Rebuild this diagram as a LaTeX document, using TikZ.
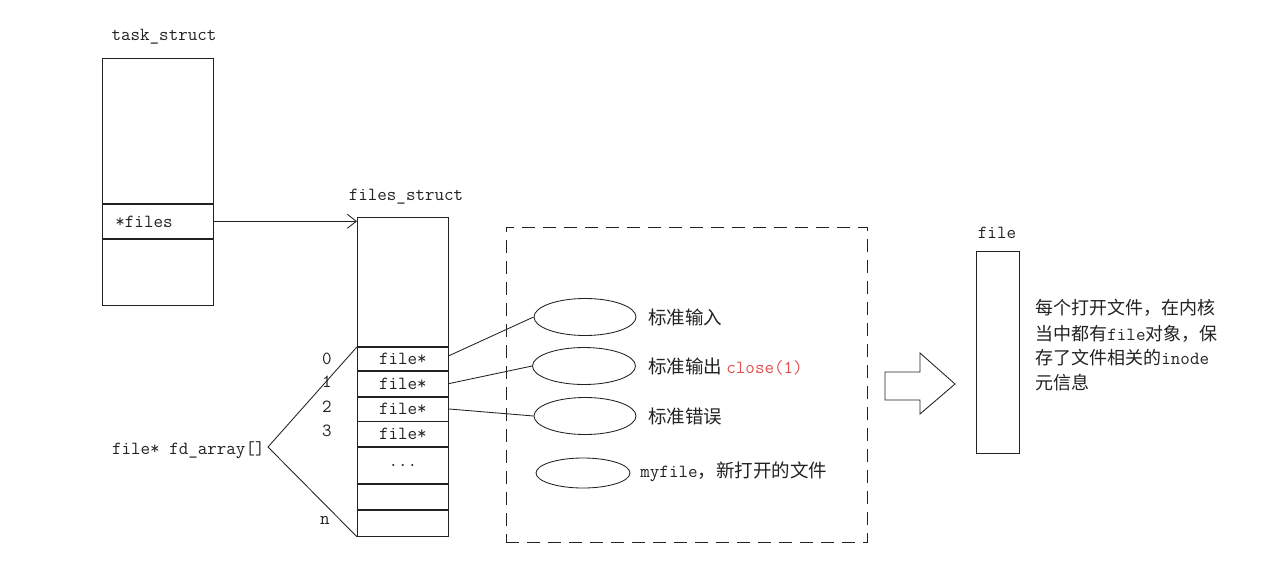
\documentclass[tikz,border=0pt]{standalone}
\usepackage{fontspec}
\newfontfamily\cjkfont{Noto Sans CJK SC}
\usetikzlibrary{arrows.meta,shapes.geometric}
\definecolor{redtxt}{HTML}{E05050}
\definecolor{inkc}{HTML}{222222}
\newcommand\monotxt[1]{{\fontsize{18.5}{21}\selectfont\ttfamily #1}}
\begin{document}
\begin{tikzpicture}[x=1pt,y=-1pt, line width=0.85pt, draw=inkc,
  mono/.style={font=\fontsize{18.5}{21}\selectfont\ttfamily, inner sep=0pt, text=inkc},
  cjklabel/.style={font=\fontsize{18.5}{22}\selectfont\cjkfont, inner sep=0pt, anchor=west, text=inkc},
  desc/.style={font=\fontsize{18}{22}\selectfont\cjkfont, inner sep=0pt, anchor=west, text=inkc},
  tbox/.style={draw=inkc, minimum width=111pt, inner sep=0pt, anchor=north west},
  cell/.style={draw=inkc, minimum width=91pt, inner sep=0pt, anchor=north west,
    font=\fontsize{18.5}{21}\selectfont\ttfamily, text=inkc},
  oval/.style={draw=inkc, ellipse, inner sep=0pt}
]
\useasboundingbox (0,0) rectangle (1280,565);
\fill[white] (0,0) rectangle (1280,565);

% task_struct
\node[mono] (tsl) at (164,37) {task\_struct};
\node[tbox, minimum height=145pt] (ts0) at (102,58) {};
\node[tbox, minimum height=34pt] (ts1) at (ts0.south west) {};
\node[tbox, minimum height=66pt] (ts2) at (ts1.south west) {};
\node[mono, anchor=west] (tsf) at (115,222) {*files};

% files_struct
\node[mono] (fsl) at (406,197) {files\_struct};
\node[cell, minimum height=129pt] (fs0) at (357,217) {};
\node[cell, minimum height=23pt] (r0) at (fs0.south west) {file*};
\node[cell, minimum height=25pt] (r1) at (r0.south west) {file*};
\node[cell, minimum height=24pt] (r2) at (r1.south west) {file*};
\node[cell, minimum height=25pt] (r3) at (r2.south west) {file*};
\node[cell, minimum height=36pt] (r4) at (r3.south west) {...};
\node[cell, minimum height=25pt] (r5) at (r4.south west) {};
\node[cell, minimum height=26pt] (r6) at (r5.south west) {};

\draw[-{Straight Barb[length=9pt,width=14pt]}] (ts1.east) -- (ts1.east -| fs0.west);

% indices
\node[mono] (i0) at (327,359) {0};
\node[mono] (i1) at (327,382) {1};
\node[mono] (i2) at (327,407) {2};
\node[mono] (i3) at (327,431) {3};
\node[mono] (in) at (325,520) {n};

% fd_array bracket
\node[mono, anchor=east] (fda) at (265,450) {file* fd\_array[]};
\coordinate (apex) at (268,447);
\draw (r0.north west) -- (apex) -- (r6.south west);

% dashed box
\node[draw=inkc, dash pattern=on 13pt off 8pt, minimum width=361pt, minimum height=315pt,
  inner sep=0pt, anchor=north west] (dbox) at (506,227) {};

% ellipses
\node[oval, minimum width=102pt, minimum height=37pt] (e0) at (585,317) {};
\node[oval, minimum width=103pt, minimum height=37pt] (e1) at (584,366) {};
\node[oval, minimum width=102pt, minimum height=37pt] (e2) at (585,416) {};
\node[oval, minimum width=94pt, minimum height=30pt] (e3) at (583,473) {};

\draw ([yshift=3pt]r0.east) -- (e0.west);
\draw (r1.east) -- (e1.west);
\draw (r2.east) -- (e2.west);

\node[cjklabel] (l0) at (648,317) {标准输入};
\node[cjklabel] (l1) at (648,366) {标准输出\hspace{4pt}\textcolor{redtxt}{\monotxt{close(1)}}};
\node[cjklabel] (l2) at (648,416) {标准错误};
\node[cjklabel] (l3) at (640,472) {\monotxt{myfile}，新打开的文件};

% big arrow
\draw (885,372) -- (920,372) -- (920,353) -- (955,384) -- (920,414) -- (920,400) -- (885,400) -- cycle;

% file box
\node[mono] (fbl) at (997,233) {file};
\node[draw=inkc, minimum width=43pt, minimum height=202pt, inner sep=0pt, anchor=north west] (fb) at (976,251) {};

\node[desc] (d1) at (1035,308) {每个打开文件，在内核};
\node[desc] (d2) at (1035,334) {当中都有\monotxt{file}对象，保};
\node[desc] (d3) at (1035,358) {存了文件相关的\monotxt{inode}};
\node[desc] (d4) at (1035,383) {元信息};
\end{tikzpicture}
\end{document}
